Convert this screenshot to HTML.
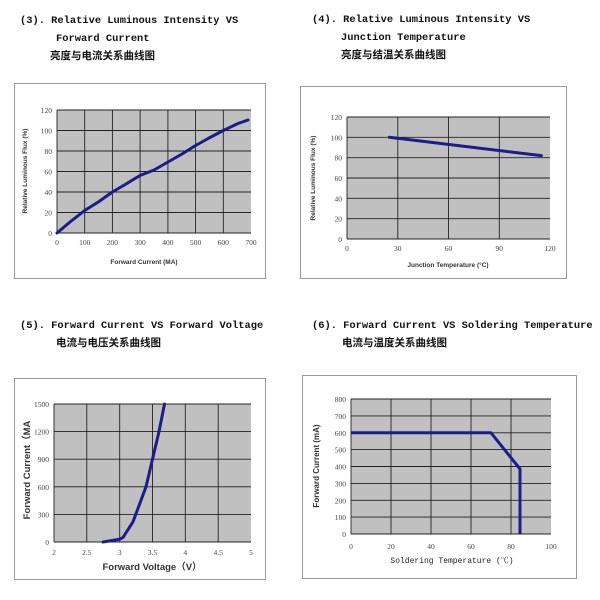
<!DOCTYPE html>
<html><head><meta charset="utf-8"><style>
html,body{margin:0;padding:0;background:#fff;}
svg{display:block;}
.t{font-family:"Liberation Mono","Noto Serif CJK SC",monospace;font-weight:bold;font-size:10.4px;fill:#111;}
.c{font-family:"Liberation Sans","Noto Sans CJK SC",sans-serif;font-weight:bold;font-size:10.5px;fill:#111;}
.tk{font-family:"Liberation Serif",serif;font-size:7.5px;fill:#444;}
.ax{font-family:"Liberation Sans",sans-serif;font-weight:bold;font-size:6.5px;fill:#333;}
.ax2{font-family:"Liberation Sans","Noto Sans CJK SC",sans-serif;font-weight:bold;font-size:9.5px;fill:#333;}
.g{stroke:#222;stroke-width:0.9;}
.cv{fill:none;stroke:#1c1c8a;stroke-width:3;stroke-linejoin:round;stroke-linecap:round;}
.fr{fill:#fff;stroke:#999;stroke-width:1;}
</style></head><body>
<svg width="600" height="600" xmlns="http://www.w3.org/2000/svg">
<!-- Titles -->
<text class="t" x="20" y="23">(3). Relative Luminous Intensity VS</text>
<text class="t" x="56" y="41">Forward Current</text>
<text class="c" x="50" y="59">亮度与电流关系曲线图</text>
<text class="t" x="312" y="22">(4). Relative Luminous Intensity VS</text>
<text class="t" x="341" y="40">Junction Temperature</text>
<text class="c" x="341" y="58">亮度与结温关系曲线图</text>
<text class="t" x="20" y="328">(5). Forward Current VS Forward Voltage</text>
<text class="c" x="56" y="346">电流与电压关系曲线图</text>
<text class="t" x="312" y="328">(6). Forward Current VS Soldering Temperature</text>
<text class="c" x="342" y="346">电流与温度关系曲线图</text>

<!-- Chart 1 -->
<rect class="fr" x="14.5" y="83.5" width="251" height="195"/>
<rect x="57" y="110" width="194" height="123" fill="#c0c0c0"/>
<g class="g">
<line x1="57" y1="110" x2="251" y2="110"/><line x1="57" y1="130.5" x2="251" y2="130.5"/><line x1="57" y1="151" x2="251" y2="151"/><line x1="57" y1="171.5" x2="251" y2="171.5"/><line x1="57" y1="192" x2="251" y2="192"/><line x1="57" y1="212.5" x2="251" y2="212.5"/><line x1="57" y1="233" x2="251" y2="233"/>
<line x1="57" y1="110" x2="57" y2="233"/><line x1="84.7" y1="110" x2="84.7" y2="233"/><line x1="112.4" y1="110" x2="112.4" y2="233"/><line x1="140.1" y1="110" x2="140.1" y2="233"/><line x1="167.9" y1="110" x2="167.9" y2="233"/><line x1="195.6" y1="110" x2="195.6" y2="233"/><line x1="223.3" y1="110" x2="223.3" y2="233"/>
</g>
<path class="cv" d="M57,233 L70,222 L84.7,210.5 L99,201.5 L112.4,192 L126,184 L140,175.5 L154,170 L168,162 L182,154 L195.6,145.5 L209,138 L223.3,130.5 L238,123.5 L248,120"/>
<g class="tk" text-anchor="end"><text x="52" y="113">120</text><text x="52" y="133.5">100</text><text x="52" y="154">80</text><text x="52" y="174.5">60</text><text x="52" y="195">40</text><text x="52" y="215.5">20</text><text x="52" y="236">0</text></g>
<g class="tk" text-anchor="middle"><text x="57" y="245">0</text><text x="84.7" y="245">100</text><text x="112.4" y="245">200</text><text x="140.1" y="245">300</text><text x="167.9" y="245">400</text><text x="195.6" y="245">500</text><text x="223.3" y="245">600</text><text x="251" y="245">700</text></g>
<text class="ax" x="144" y="264" text-anchor="middle">Forward Current (MA)</text>
<text class="ax" transform="translate(27,171) rotate(-90)" text-anchor="middle">Relative Luminous Flux (%)</text>

<!-- Chart 2 -->
<rect class="fr" x="300.5" y="86.5" width="266" height="192"/>
<rect x="347" y="117" width="203" height="122" fill="#c0c0c0"/>
<g class="g">
<line x1="347" y1="117" x2="550" y2="117"/><line x1="347" y1="137.3" x2="550" y2="137.3"/><line x1="347" y1="157.7" x2="550" y2="157.7"/><line x1="347" y1="178" x2="550" y2="178"/><line x1="347" y1="198.3" x2="550" y2="198.3"/><line x1="347" y1="218.7" x2="550" y2="218.7"/><line x1="347" y1="239" x2="550" y2="239"/>
<line x1="347" y1="117" x2="347" y2="239"/><line x1="397.8" y1="117" x2="397.8" y2="239"/><line x1="448.5" y1="117" x2="448.5" y2="239"/><line x1="499.3" y1="117" x2="499.3" y2="239"/>
</g>
<path class="cv" d="M389.3,137.3 L541.4,155.6"/>
<g class="tk" text-anchor="end"><text x="342" y="120">120</text><text x="342" y="140.3">100</text><text x="342" y="160.7">80</text><text x="342" y="181">60</text><text x="342" y="201.3">40</text><text x="342" y="221.7">20</text><text x="342" y="242">0</text></g>
<g class="tk" text-anchor="middle"><text x="347" y="251">0</text><text x="397.8" y="251">30</text><text x="448.5" y="251">60</text><text x="499.3" y="251">90</text><text x="550" y="251">120</text></g>
<text class="ax" x="448" y="267" text-anchor="middle">Junction Temperature (°C)</text>
<text class="ax" transform="translate(315,178) rotate(-90)" text-anchor="middle">Relative Luminous Flux (%)</text>

<!-- Chart 3 -->
<rect class="fr" x="14.5" y="378.5" width="251" height="201"/>
<rect x="54" y="404" width="197" height="138" fill="#c0c0c0"/>
<g class="g">
<line x1="54" y1="404" x2="251" y2="404"/><line x1="54" y1="431.6" x2="251" y2="431.6"/><line x1="54" y1="459.2" x2="251" y2="459.2"/><line x1="54" y1="486.8" x2="251" y2="486.8"/><line x1="54" y1="514.4" x2="251" y2="514.4"/><line x1="54" y1="542" x2="251" y2="542"/>
<line x1="54" y1="404" x2="54" y2="542"/><line x1="86.8" y1="404" x2="86.8" y2="542"/><line x1="119.7" y1="404" x2="119.7" y2="542"/><line x1="152.5" y1="404" x2="152.5" y2="542"/><line x1="185.3" y1="404" x2="185.3" y2="542"/><line x1="218.2" y1="404" x2="218.2" y2="542"/>
</g>
<path class="cv" d="M103,542 L115,540 L119.7,539.2 L123,537.4 L133,521.8 L146,486.8 L152.5,459.2 L159,431.6 L164.5,404"/>
<g class="tk" text-anchor="end"><text x="49" y="407">1500</text><text x="49" y="434.6">1200</text><text x="49" y="462.2">900</text><text x="49" y="489.8">600</text><text x="49" y="517.4">300</text><text x="49" y="545">0</text></g>
<g class="tk" text-anchor="middle"><text x="54" y="555">2</text><text x="86.8" y="555">2.5</text><text x="119.7" y="555">3</text><text x="152.5" y="555">3.5</text><text x="185.3" y="555">4</text><text x="218.2" y="555">4.5</text><text x="251" y="555">5</text></g>
<text class="ax2" x="152" y="570" text-anchor="middle">Forward Voltage（V）</text>
<text class="ax2" transform="translate(30,470) rotate(-90)" text-anchor="middle">Forward Current（MA</text>

<!-- Chart 4 -->
<rect class="fr" x="302.5" y="375.5" width="274" height="203"/>
<rect x="351" y="399" width="200" height="135" fill="#c0c0c0"/>
<g class="g">
<line x1="351" y1="399" x2="551" y2="399"/><line x1="351" y1="415.9" x2="551" y2="415.9"/><line x1="351" y1="432.8" x2="551" y2="432.8"/><line x1="351" y1="449.6" x2="551" y2="449.6"/><line x1="351" y1="466.5" x2="551" y2="466.5"/><line x1="351" y1="483.4" x2="551" y2="483.4"/><line x1="351" y1="500.3" x2="551" y2="500.3"/><line x1="351" y1="517.1" x2="551" y2="517.1"/><line x1="351" y1="534" x2="551" y2="534"/>
<line x1="351" y1="399" x2="351" y2="534"/><line x1="391" y1="399" x2="391" y2="534"/><line x1="431" y1="399" x2="431" y2="534"/><line x1="471" y1="399" x2="471" y2="534"/><line x1="511" y1="399" x2="511" y2="534"/>
</g>
<path class="cv" style="stroke-linecap:butt" d="M351,432.8 L491,432.8 L520,469 L520,534"/>
<g class="tk" text-anchor="end"><text x="346" y="402">800</text><text x="346" y="418.9">700</text><text x="346" y="435.8">600</text><text x="346" y="452.6">500</text><text x="346" y="469.5">400</text><text x="346" y="486.4">300</text><text x="346" y="503.3">200</text><text x="346" y="520.1">100</text><text x="346" y="537">0</text></g>
<g class="tk" text-anchor="middle"><text x="351" y="549">0</text><text x="391" y="549">20</text><text x="431" y="549">40</text><text x="471" y="549">60</text><text x="511" y="549">80</text><text x="551" y="549">100</text></g>
<text class="tk" x="452" y="563" text-anchor="middle" style="font-family:'Liberation Mono','Noto Serif CJK SC',monospace;font-size:8px;fill:#222">Soldering Temperature (℃)</text>
<text class="ax" style="font-size:8px" transform="translate(319,466) rotate(-90)" text-anchor="middle">Forward Current (mA)</text>
</svg>
</body></html>
